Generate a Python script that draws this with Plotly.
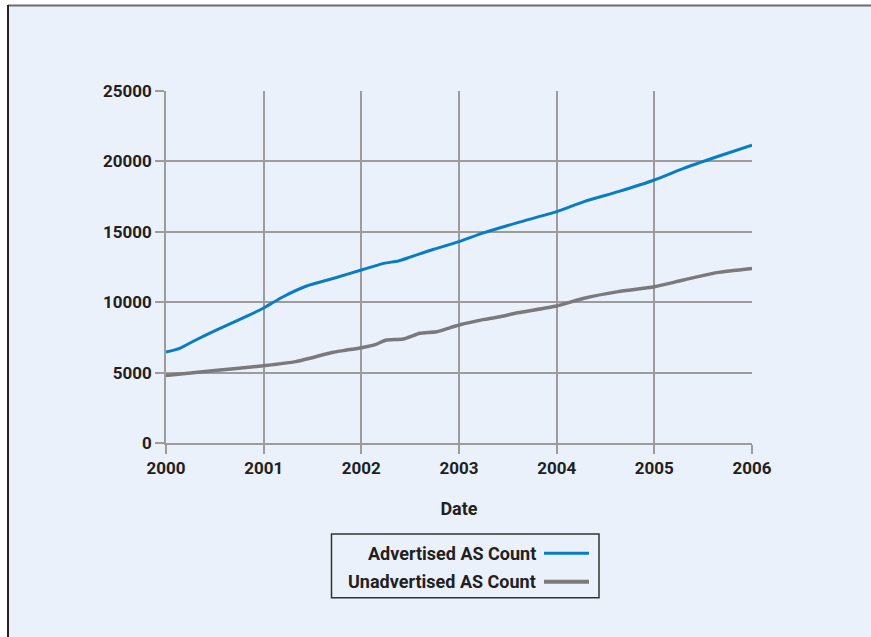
import plotly.graph_objects as go

# ---- data (decimal years) ----
adv_t = [0, 0.14, 0.3, 0.52, 0.79, 1.0, 1.2, 1.44, 1.72, 2.0, 2.23, 2.38, 2.5, 2.74,
         3.0, 3.25, 3.6, 4.0, 4.28, 4.63, 5.0, 5.3, 5.64, 6.0]
adv_v = [6460, 6725, 7300, 8030, 8880, 9590, 10390, 11150, 11700, 12290, 12760, 12930,
         13200, 13760, 14300, 14920, 15650, 16430, 17140, 17850, 18680, 19510, 20330, 21160]

unadv_t = [0, 0.5, 1.0, 1.33, 1.71, 1.85, 2.0, 2.15, 2.25, 2.43, 2.6, 2.77, 3.0, 3.26,
           3.43, 3.6, 4.0, 4.28, 4.63, 5.0, 5.3, 5.64, 6.0]
unadv_v = [4800, 5150, 5490, 5780, 6440, 6600, 6770, 7010, 7300, 7390, 7790, 7900, 8380,
           8780, 8980, 9250, 9730, 10280, 10750, 11100, 11580, 12100, 12400]

start_year = 2000
year_ticks = [2000, 2001, 2002, 2003, 2004, 2005, 2006]
y_ticks = [0, 5000, 10000, 15000, 20000, 25000]
series_names = ["Advertised AS Count", "Unadvertised AS Count"]
series_colors = ["#0a7cc4", "#7a7a7d"]

W, H = 871, 637
L, R, T, B = 166, 752, 91, 443
FONT = "Roboto, Liberation Sans Narrow, sans-serif"
FS = 17
BG = "#eaf1fa"
TXT = "#231f20"
GRID = "#9c9c9c"


def px(x):
    return (x - L) / (R - L)


def py(y):
    return (B - y) / (B - T)


fig = go.Figure()
fig.add_trace(go.Scatter(x=[start_year + t for t in adv_t], y=adv_v, mode="lines",
                         name=series_names[0], line=dict(color=series_colors[0], width=3,
                                                         shape="spline", smoothing=0.6)))
fig.add_trace(go.Scatter(x=[start_year + t for t in unadv_t], y=unadv_v, mode="lines",
                         name=series_names[1], line=dict(color=series_colors[1], width=3.5,
                                                         shape="spline", smoothing=0.6)))

shapes = []
# outer frame background
shapes.append(dict(type="rect", xref="paper", yref="paper", x0=px(8), x1=px(W + 20),
                   y0=py(H + 20), y1=py(5.5), fillcolor=BG, line=dict(width=0), layer="below"))
shapes.append(dict(type="line", xref="paper", yref="paper", x0=px(8), x1=px(W + 20),
                   y0=py(5.5), y1=py(5.5), line=dict(color="#6b6b6b", width=2)))
shapes.append(dict(type="line", xref="paper", yref="paper", x0=px(8), x1=px(8),
                   y0=py(5), y1=py(H + 20), line=dict(color="#2a2222", width=2)))
# legend box
shapes.append(dict(type="rect", xref="paper", yref="paper", x0=px(331.5), x1=px(599),
                   y0=py(597.7), y1=py(534), line=dict(color="#333333", width=1.5),
                   fillcolor=BG))
annotations = []
rows_y = [553.3, 581.7]
for name, col, ry, w in zip(series_names, series_colors, rows_y, [3, 4]):
    shapes.append(dict(type="line", xref="paper", yref="paper", x0=px(544), x1=px(589),
                       y0=py(ry), y1=py(ry), line=dict(color=col, width=w)))
    annotations.append(dict(xref="paper", yref="paper", x=px(538), y=py(ry),
                            text="<b>" + name + "</b>",
                            showarrow=False, xanchor="right", yanchor="middle",
                            font=dict(family=FONT, size=18, color=TXT)))

fig.update_layout(
    width=W, height=H,
    margin=dict(l=L, r=W - R, t=T, b=H - B, pad=0),
    paper_bgcolor="white", plot_bgcolor=BG,
    showlegend=False,
    font=dict(family=FONT, size=FS, color=TXT),
    shapes=shapes, annotations=annotations,
    xaxis=dict(range=[2000, 2006], tickvals=year_ticks,
               ticktext=["<b>%d</b>" % v for v in year_ticks],
               showgrid=True, gridcolor=GRID, gridwidth=1.5,
               zeroline=False, showline=True, linecolor=GRID, linewidth=1.5,
               ticks="outside", ticklen=9, tickwidth=1.5, tickcolor=GRID,
               tickfont=dict(family=FONT, size=FS, color=TXT),
               title=dict(text="<b>Date</b>", standoff=25,
                          font=dict(family=FONT, size=18, color=TXT))),
    yaxis=dict(range=[0, 25000], tickvals=y_ticks,
               ticktext=["<b>%d</b>" % v for v in y_ticks],
               showgrid=True, gridcolor=GRID, gridwidth=1.5,
               zeroline=False, showline=True, linecolor=GRID, linewidth=1.5,
               ticks="outside", ticklen=9, tickwidth=1.5, tickcolor=GRID,
               tickfont=dict(family=FONT, size=FS, color=TXT)),
)

fig.write_html("out.html", config={"displayModeBar": False},
               post_script="document.body.style.margin='0';")
